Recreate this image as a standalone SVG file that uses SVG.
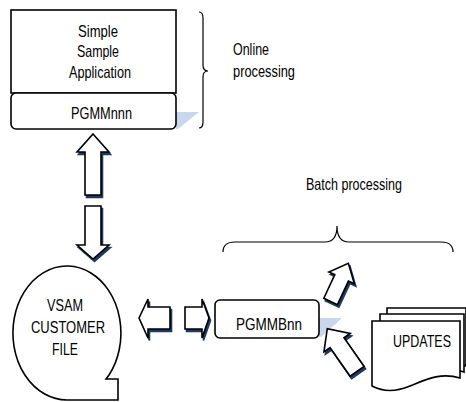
<svg xmlns="http://www.w3.org/2000/svg" width="466" height="402" viewBox="0 0 466 402">
<style>
.bx{fill:#fff;stroke:#000;stroke-width:1.6}
.br{fill:none;stroke:#000;stroke-width:1.2}
.ar{fill:#fff;stroke:#000;stroke-width:1.6;stroke-linejoin:miter}
.sh{fill:#1f3864;stroke:#1f3864;stroke-width:1.6}
.gl{fill:#c8d7eb}
text{font-family:"Liberation Sans",Arial,sans-serif;font-size:16.5px;fill:#000}
</style>
<defs>
<polygon id="dA" points="-21,-7.5 5,-7.5 5,-14 21,0 5,14 5,7.5 -21,7.5"/>
<polygon id="dB" points="-26,-8.5 9,-8.5 9,-16 26,0 9,16 9,8.5 -26,8.5"/>
</defs>
<rect width="466" height="402" fill="#fff"/>

<g id="online-app">
<polygon class="gl" points="176,112 199,112 178,129 176,129"/>
<rect class="bx" x="11" y="10" width="165" height="83"/>
<rect class="bx" x="11" y="93" width="165" height="36" rx="5"/>
<text x="78" y="37" textLength="40" lengthAdjust="spacingAndGlyphs">Simple</text>
<text x="77" y="57" textLength="42" lengthAdjust="spacingAndGlyphs">Sample</text>
<text x="69" y="78" textLength="62" lengthAdjust="spacingAndGlyphs">Application</text>
<text x="71" y="119" textLength="61" lengthAdjust="spacingAndGlyphs">PGMMnnn</text>
</g>

<g id="online-label">
<path class="br" d="M199,12 Q203,12 203,18 V65 Q203,71 208,71 Q203,71 203,77 V122 Q203,128 199,128"/>
<text x="233" y="55" textLength="36" lengthAdjust="spacingAndGlyphs">Online</text>
<text x="233" y="77" textLength="62" lengthAdjust="spacingAndGlyphs">processing</text>
</g>

<g id="batch-label">
<path class="br" d="M223,252 Q223,242 235,242 H325 Q337,242 337,226 Q337,242 349,242 H441 Q453,242 453,252"/>
<text x="306" y="190" textLength="96" lengthAdjust="spacingAndGlyphs">Batch processing</text>
</g>

<g id="vsam">
<path class="bx" d="M118,379 L106,379 L109,375 A54,67 0 1 0 67,400 L118,400 Z"/>
<text x="47" y="311" textLength="36" lengthAdjust="spacingAndGlyphs">VSAM</text>
<text x="31" y="333" textLength="74" lengthAdjust="spacingAndGlyphs">CUSTOMER</text>
<text x="52" y="355" textLength="26" lengthAdjust="spacingAndGlyphs">FILE</text>
</g>

<g id="pgmmbnn">
<polygon class="gl" points="319,318 342,318 321,337 319,337"/>
<rect class="bx" x="215" y="300" width="104" height="38" rx="5"/>
<text x="236" y="330" textLength="66" lengthAdjust="spacingAndGlyphs">PGMMBnn</text>
</g>

<g id="updates">
<path class="bx" d="M387,308 H466 V366 C458,362 443,368 428,374 C413,380 400,380 387,374 Z"/>
<path class="bx" d="M380,314 H464 V372 C447,366 433,374 418,380 C403,386 392,386 380,380 Z"/>
<path class="bx" d="M372,321 H460 V378 C440,372 425,380 410,386 C395,392 384,392 372,386 Z"/>
<text x="393" y="347" textLength="58" lengthAdjust="spacingAndGlyphs">UPDATES</text>
</g>

<g id="connectors">
<polygon class="sh" points="94.5,136.5 110.5,154.5 102.5,154.5 102.5,197.5 86.5,197.5 86.5,154.5 78.5,154.5"/>
<polygon class="ar" points="93,134 109,152 101,152 101,195 85,195 85,152 77,152"/>
<polygon class="sh" points="86.5,208.5 102.5,208.5 102.5,247.5 110.5,247.5 94.5,261.5 78.5,247.5 86.5,247.5"/>
<polygon class="ar" points="85,206 101,206 101,245 109,245 93,259 77,245 85,245"/>
<polygon class="sh" points="140.5,320.5 149.5,301.5 149.5,309.5 171.5,309.5 171.5,331.5 149.5,331.5 149.5,340.5"/>
<polygon class="ar" points="139,318 148,299 148,307 170,307 170,329 148,329 148,338"/>
<polygon class="sh" points="186.5,309.5 203.5,309.5 203.5,301.5 210.5,320.5 203.5,340.5 203.5,331.5 186.5,331.5"/>
<polygon class="ar" points="185,307 202,307 202,299 209,318 202,338 202,329 185,329"/>
<use href="#dA" class="sh" transform="translate(341,284.9) rotate(-65)"/>
<use href="#dA" class="ar" transform="translate(339.5,282.4) rotate(-65)"/>
<use href="#dB" class="sh" transform="translate(343.7,352.5) rotate(-125)"/>
<use href="#dB" class="ar" transform="translate(342.2,350) rotate(-125)"/>
</g>
</svg>
